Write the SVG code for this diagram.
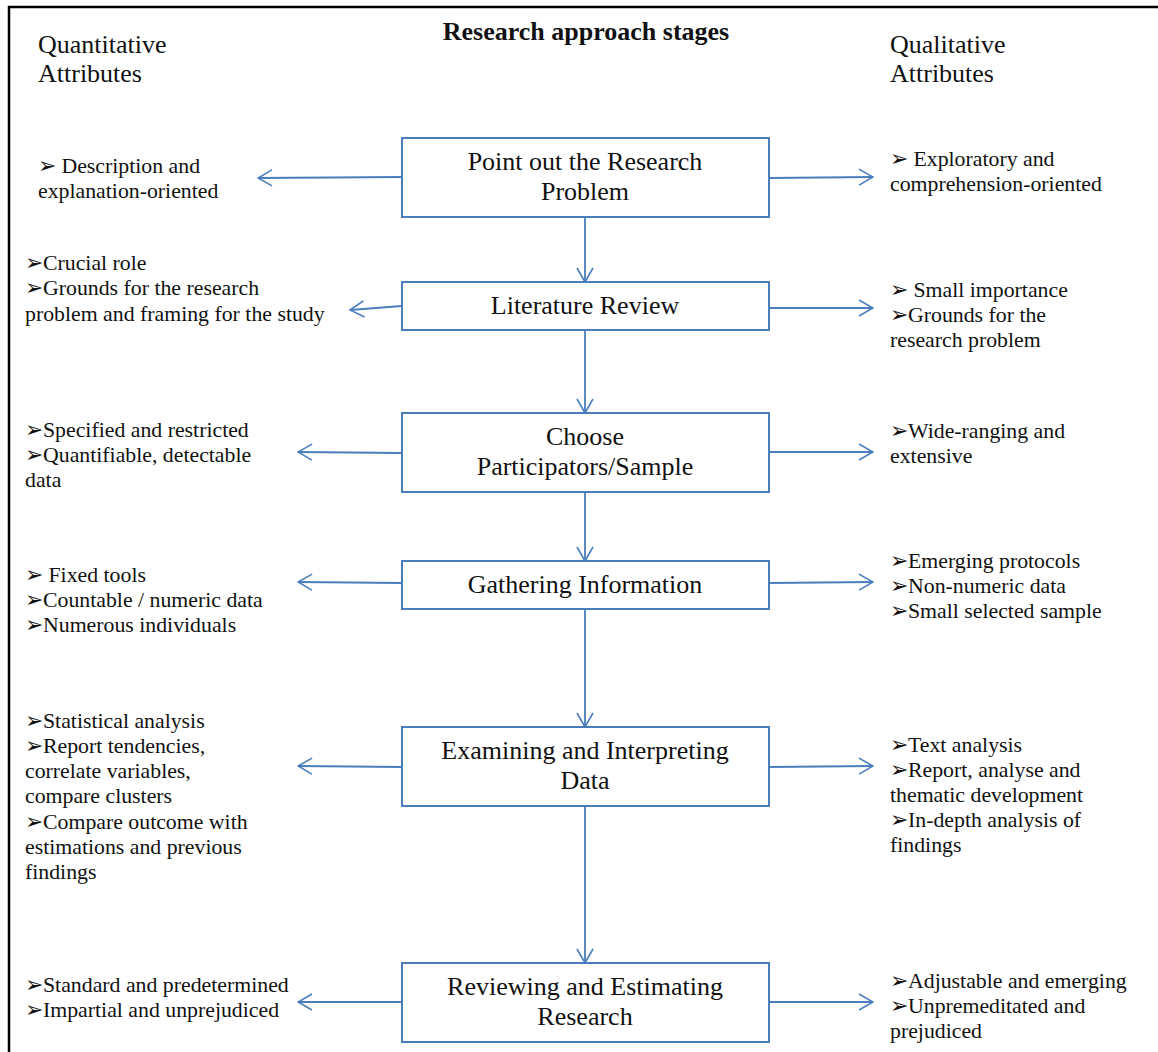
<svg xmlns="http://www.w3.org/2000/svg" width="1158" height="1052" viewBox="0 0 1158 1052">
<defs>
<marker id="ah" viewBox="0 0 16 18" refX="15" refY="9" markerWidth="16" markerHeight="18" markerUnits="userSpaceOnUse" orient="auto">
<path d="M1,1 L15,9 L1,17" fill="none" stroke="#4a7ebb" stroke-width="1.6"/>
</marker>
<style>
text{font-family:"Liberation Serif","Times New Roman","DejaVu Serif",serif;fill:#111}
.t{font-size:26px;font-weight:bold;text-anchor:middle}
.h{font-size:26px}
.n{font-size:26px;text-anchor:middle}
.b{font-size:21.8px}
.box{fill:#fff;stroke:#4a7ebb;stroke-width:2}
.c{stroke:#4a7ebb;stroke-width:1.8;fill:none;marker-end:url(#ah)}
.frame{stroke:#000;stroke-width:2.5;fill:none}
</style>
</defs>
<rect width="1158" height="1052" fill="#fff"/>
<path class="frame" d="M9,1052 L9,7 L1158,7"/>
<g id="title">
<text class="t" x="586" y="40">Research approach stages</text>
</g>
<g id="header-quant">
<text class="h" x="38" y="53">Quantitative</text>
<text class="h" x="38" y="82">Attributes</text>
</g>
<g id="header-qual">
<text class="h" x="890" y="53">Qualitative</text>
<text class="h" x="890" y="82">Attributes</text>
</g>
<g id="connectors">
<path class="c" d="M585,217 L585,282"/>
<path class="c" d="M585,330 L585,413"/>
<path class="c" d="M585,492 L585,561"/>
<path class="c" d="M585,609 L585,727"/>
<path class="c" d="M585,806 L585,963"/>
<path class="c" d="M402,177 L258,178"/>
<path class="c" d="M769,178 L873,177"/>
<path class="c" d="M402,306 L350,310"/>
<path class="c" d="M769,308 L873,308"/>
<path class="c" d="M402,453 L298,452"/>
<path class="c" d="M769,452 L873,452"/>
<path class="c" d="M402,583 L298,582"/>
<path class="c" d="M769,583 L873,582"/>
<path class="c" d="M402,767 L298,766"/>
<path class="c" d="M769,767 L873,766"/>
<path class="c" d="M402,1002 L298,1002"/>
<path class="c" d="M769,1002 L873,1002"/>
</g>
<g id="stage1">
<rect class="box" x="402" y="138" width="367" height="79"/>
<text class="n" x="585" y="170">Point out the Research</text>
<text class="n" x="585" y="200">Problem</text>
</g>
<g id="stage2">
<rect class="box" x="402" y="282" width="367" height="48"/>
<text class="n" x="585" y="314">Literature Review</text>
</g>
<g id="stage3">
<rect class="box" x="402" y="413" width="367" height="79"/>
<text class="n" x="585" y="445">Choose</text>
<text class="n" x="585" y="475">Participators/Sample</text>
</g>
<g id="stage4">
<rect class="box" x="402" y="561" width="367" height="48"/>
<text class="n" x="585" y="593">Gathering Information</text>
</g>
<g id="stage5">
<rect class="box" x="402" y="727" width="367" height="79"/>
<text class="n" x="585" y="759">Examining and Interpreting</text>
<text class="n" x="585" y="789">Data</text>
</g>
<g id="stage6">
<rect class="box" x="402" y="963" width="367" height="79"/>
<text class="n" x="585" y="995">Reviewing and Estimating</text>
<text class="n" x="585" y="1025">Research</text>
</g>
<g id="quant1">
<text class="b" x="38" y="173">➢ Description and</text>
<text class="b" x="38" y="198">explanation-oriented</text>
</g>
<g id="qual1">
<text class="b" x="890" y="166">➢ Exploratory and</text>
<text class="b" x="890" y="191">comprehension-oriented</text>
</g>
<g id="quant2">
<text class="b" x="25" y="270">➢Crucial role</text>
<text class="b" x="25" y="295">➢Grounds for the research</text>
<text class="b" x="25" y="321">problem and framing for the study</text>
</g>
<g id="qual2">
<text class="b" x="890" y="297">➢ Small importance</text>
<text class="b" x="890" y="322">➢Grounds for the</text>
<text class="b" x="890" y="347">research problem</text>
</g>
<g id="quant3">
<text class="b" x="25" y="437">➢Specified and restricted</text>
<text class="b" x="25" y="462">➢Quantifiable, detectable</text>
<text class="b" x="25" y="487">data</text>
</g>
<g id="qual3">
<text class="b" x="890" y="438">➢Wide-ranging and</text>
<text class="b" x="890" y="463">extensive</text>
</g>
<g id="quant4">
<text class="b" x="25" y="582">➢ Fixed tools</text>
<text class="b" x="25" y="607">➢Countable / numeric data</text>
<text class="b" x="25" y="632">➢Numerous individuals</text>
</g>
<g id="qual4">
<text class="b" x="890" y="568">➢Emerging protocols</text>
<text class="b" x="890" y="593">➢Non-numeric data</text>
<text class="b" x="890" y="618">➢Small selected sample</text>
</g>
<g id="quant5">
<text class="b" x="25" y="728">➢Statistical analysis</text>
<text class="b" x="25" y="753">➢Report tendencies,</text>
<text class="b" x="25" y="778">correlate variables,</text>
<text class="b" x="25" y="803">compare clusters</text>
<text class="b" x="25" y="829">➢Compare outcome with</text>
<text class="b" x="25" y="854">estimations and previous</text>
<text class="b" x="25" y="879">findings</text>
</g>
<g id="qual5">
<text class="b" x="890" y="752">➢Text analysis</text>
<text class="b" x="890" y="777">➢Report, analyse and</text>
<text class="b" x="890" y="802">thematic development</text>
<text class="b" x="890" y="827">➢In-depth analysis of</text>
<text class="b" x="890" y="852">findings</text>
</g>
<g id="quant6">
<text class="b" x="25" y="992">➢Standard and predetermined</text>
<text class="b" x="25" y="1017">➢Impartial and unprejudiced</text>
</g>
<g id="qual6">
<text class="b" x="890" y="988">➢Adjustable and emerging</text>
<text class="b" x="890" y="1013">➢Unpremeditated and</text>
<text class="b" x="890" y="1038">prejudiced</text>
</g>
</svg>
